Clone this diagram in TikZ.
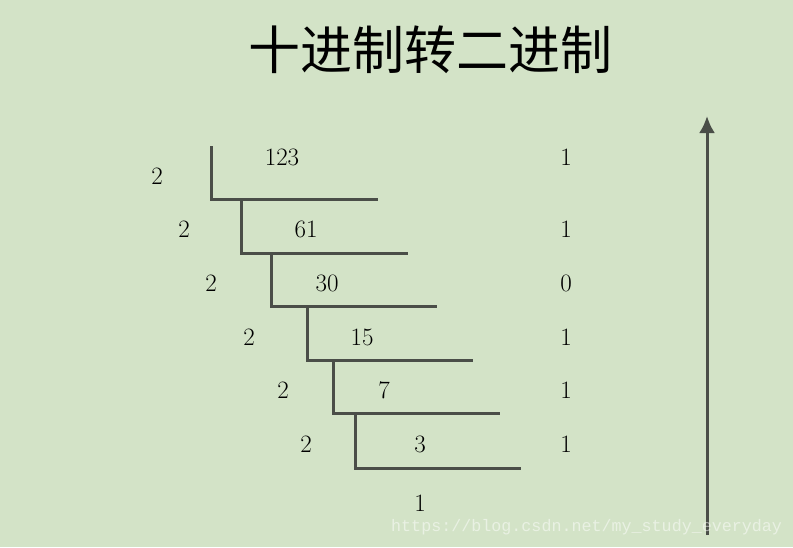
\documentclass[tikz,border=0pt]{standalone}
\usepackage{fontspec}
\usetikzlibrary{arrows.meta}
\newfontfamily\cjk{Noto Sans CJK SC}
\newfontfamily\wmfont{Liberation Mono}
\definecolor{bg}{RGB}{211,227,199}
\definecolor{ink}{RGB}{74,78,72}

\begin{document}
\begin{tikzpicture}[x=1pt,y=-1pt,
    num/.style={inner sep=0pt,font=\fontsize{25}{29}\selectfont},
    bar/.style={draw=ink,line width=3pt,line join=miter}]
    \fill[bg] (0,0) rectangle (793,547);
    \useasboundingbox (0,0) rectangle (793,547);

    \node[inner sep=0pt,font=\cjk\fontsize{52}{60}\selectfont] (title) at (430,50) {十进制转二进制};

    % divisors
    \node[num] (d1) at (157,176) {2};
    \node[num] (d2) at (184,229) {2};
    \node[num] (d3) at (211,283) {2};
    \node[num] (d4) at (249,337) {2};
    \node[num] (d5) at (283,390) {2};
    \node[num] (d6) at (306,444) {2};

    % quotients
    \node[num] (q1) at (282,157) {123};
    \node[num] (q2) at (306,229) {61};
    \node[num] (q3) at (327,283) {30};
    \node[num] (q4) at (362,337) {15};
    \node[num] (q5) at (384,390) {7};
    \node[num] (q6) at (420,444) {3};
    \node[num] (q7) at (420,503) {1};

    % remainders
    \node[num] (r1) at (566,157) {1};
    \node[num] (r2) at (566,229) {1};
    \node[num] (r3) at (566,283) {0};
    \node[num] (r4) at (566,337) {1};
    \node[num] (r5) at (566,390) {1};
    \node[num] (r6) at (566,444) {1};

    % division brackets
    \draw[bar] (211,146) -- (211,199) -- (378,199);
    \draw[bar] (241,199) -- (241,253) -- (408,253);
    \draw[bar] (271,253) -- (271,306) -- (437,306);
    \draw[bar] (307,306) -- (307,360) -- (473,360);
    \draw[bar] (333,360) -- (333,413) -- (500,413);
    \draw[bar] (355,413) -- (355,468) -- (521,468);

    % reading direction
    \coordinate (low) at (707,535);
    \coordinate (high) at (707,116);
    \draw[draw=ink,fill=ink,line width=3pt,-{Latex[length=17pt,width=16pt]}] (low) -- (high);

    \node[inner sep=0pt,anchor=west,text=white,opacity=0.5,font=\wmfont\fontsize{16.7}{18}\selectfont] (mark) at (391,527) {https://blog.csdn.net/my\_study\_everyday};
\end{tikzpicture}
\end{document}
